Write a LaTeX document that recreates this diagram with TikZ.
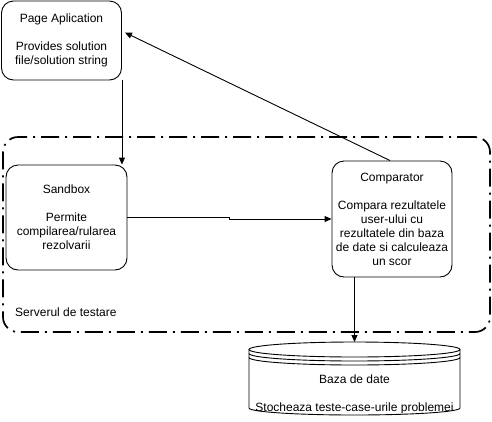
\documentclass[tikz,border=0pt]{standalone}
\usepackage{fontspec}
\setmainfont{Liberation Sans}
\usetikzlibrary{arrows.meta,calc}
\begin{document}
\begin{tikzpicture}[x=1pt,y=-1pt,
  box/.style={draw,rounded corners=12pt,align=center,font=\fontsize{12}{14}\selectfont,inner sep=0pt,line width=0.9pt},
  conn/.style={line width=0.9pt,-{Triangle[length=7pt,width=6pt]}},
  txt/.style={font=\fontsize{12}{14}\selectfont,align=center,inner sep=0pt},
  server/.style={draw,line width=1.7pt,dash pattern=on 18pt off 6pt on 2pt off 6pt,rounded corners=15pt,inner sep=0pt}]
\useasboundingbox (0,0) rectangle (492,421);

% container
\node[server,minimum width=487pt,minimum height=195pt] (srv) at (246.5,234.5) {};
\node[txt,anchor=west] (srvlabel) at (15,312) {Serverul de testare};

% boxes
\node[box,minimum width=120pt,minimum height=79pt] (pa) at (61.5,40.5)
  {Page Aplication\\[14pt]Provides solution\\file/solution string};
\node[box,minimum width=121pt,minimum height=105pt] (sb) at (66.5,217.5)
  {Sandbox\\[14pt]Permite\\compilarea/rularea\\rezolvarii};
\node[box,minimum width=120pt,minimum height=116pt] (cmp) at (392,219)
  {Comparator\\[14pt]Compara rezultatele\\user-ului cu\\rezultatele din baza\\de date si calculeaza\\un scor};

% database (datastore cylinder)
\draw[line width=0.9pt,fill=white] (249,349.5) -- (249,408)
  arc[start angle=180,end angle=360,x radius=105.5pt,y radius=7pt] -- (460,349.5);
\draw[line width=0.9pt] (354.5,349.5) ellipse [x radius=105.5pt,y radius=7.5pt];
\draw[line width=0.9pt] (249,353.5) arc[start angle=180,end angle=360,x radius=105.5pt,y radius=7.5pt];
\draw[line width=0.9pt] (249,357.5) arc[start angle=180,end angle=360,x radius=105.5pt,y radius=7.5pt];
\coordinate (dbtop) at (354.5,342);
\node[txt] (db) at (354.5,394) {Baza de date\\[14pt]Stocheaza teste-case-urile problemei};

% connectors
\draw[conn] (pa.south east) -- (sb.north -| pa.south east);
\draw[conn] (sb.east) -- ([xshift=102pt]sb.east) |- (cmp.west);
\draw[conn] ([xshift=-2pt]cmp.north) -- ([xshift=3pt,yshift=8pt]pa.east);
\draw[conn] (cmp.south -| dbtop) -- (dbtop);
\end{tikzpicture}
\end{document}
